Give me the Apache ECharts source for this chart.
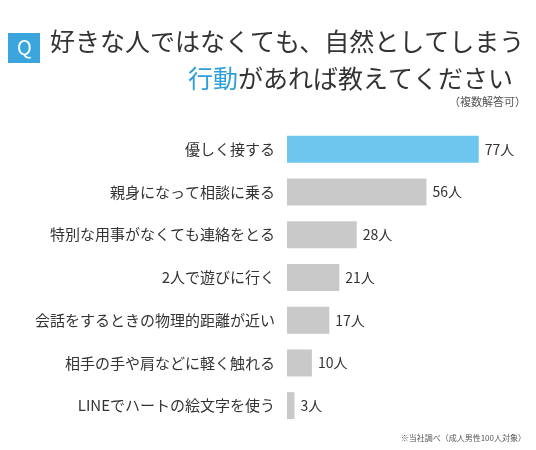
<!DOCTYPE html><html><head><meta charset="utf-8"><script src="https://cdn.jsdelivr.net/npm/echarts@6/dist/echarts.min.js"></script></head><body style="margin:0"><div id="c" style="width:536px;height:450px"></div><script>
const categories=["優しく接する","親身になって相談に乗る","特別な用事がなくても連絡をとる","2人で遊びに行く","会話をするときの物理的距離が近い","相手の手や肩などに軽く触れる","LINEでハートの絵文字を使う"];
const values=[77,56,28,21,17,10,3];
const F='"Noto Sans CJK JP"';
const c=echarts.init(document.getElementById('c'));
c.setOption({animation:false,backgroundColor:'#fff',
graphic:[
{type:'rect',shape:{x:8,y:33,width:32,height:30},style:{fill:'#3aa6dd'}},
{type:'text',left:17,top:37,style:{text:'Q',fill:'#fff',font:'20px '+F}},
{type:'text',left:50,top:29,style:{text:'好きな人ではなくても、自然としてしまう',fill:'#333',font:'25px '+F}},
{type:'text',left:188,top:66,style:{rich:{a:{fill:'#2e9fd8',font:'25px '+F},b:{fill:'#333',font:'25px '+F}},text:'{a|行動}{b|があれば教えてください}'}},
{type:'text',right:10,top:96,style:{text:'（複数解答可）',fill:'#555',font:'11px '+F}},
{type:'text',right:10,top:434,style:{text:'※当社調べ（成人男性100人対象）',fill:'#555',font:'8px '+F}}
],
grid:{left:287,top:128,width:258,height:299},
xAxis:{type:'value',min:0,max:100,show:false},
yAxis:{type:'category',inverse:true,data:categories,axisLine:{show:false},axisTick:{show:false},axisLabel:{margin:12,color:'#333',fontSize:15,fontFamily:F}},
series:[{type:'bar',barWidth:27,data:values.map((v,i)=>({value:v,itemStyle:{color:i===0?'#6cc6ee':'#c9c9c9'}})),label:{show:true,position:'right',formatter:'{c}人',color:'#333',fontSize:14,fontFamily:F,distance:6}}]});
</script></body></html>
